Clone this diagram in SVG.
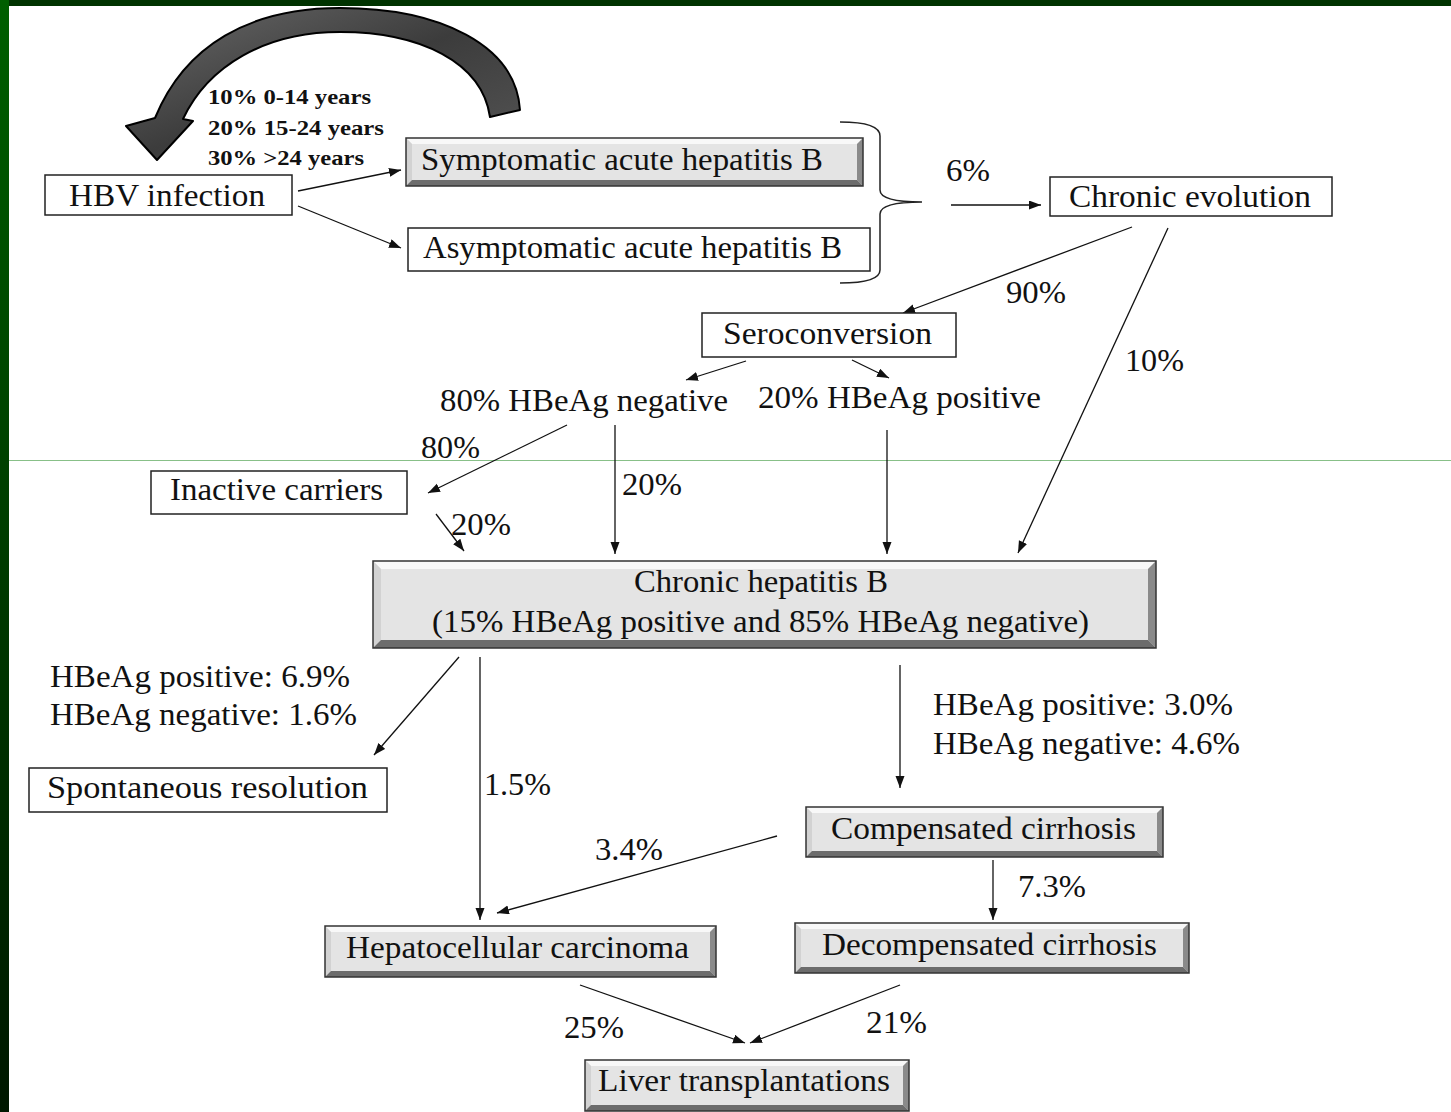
<svg xmlns="http://www.w3.org/2000/svg" width="1451" height="1112" viewBox="0 0 1451 1112" font-family="Liberation Serif, Times New Roman, serif">
<style>
text{font-size:31px;fill:#111}
.sm{font-size:22px;font-weight:bold}
.box{fill:#fff;stroke:#222;stroke-width:1.5}
.face{fill:#e4e4e4}
.bt{fill:#f8f8f8}.bl{fill:#d2d2d2}.br{fill:#8a8a8a}.bb{fill:#6c6c6c}
.edge{fill:none;stroke:#333;stroke-width:1.5}
.c{fill:none;stroke:#111;stroke-width:1.3;marker-end:url(#ah)}
</style>
<defs>
<marker id="ah" markerUnits="userSpaceOnUse" markerWidth="14" markerHeight="10" refX="12" refY="4.5" orient="auto"><path d="M0,0 L12,4.5 L0,9 z" fill="#111"/></marker>
<linearGradient id="lb" x1="0" y1="0" x2="0" y2="1"><stop offset="0" stop-color="#005f00"/><stop offset="1" stop-color="#001800"/></linearGradient>
<linearGradient id="arc" x1="0" y1="0" x2="1" y2="1"><stop offset="0" stop-color="#6a6a6a"/><stop offset="0.5" stop-color="#3c3c3c"/><stop offset="1" stop-color="#555"/></linearGradient>
</defs>
<rect width="1451" height="1112" fill="#fff"/>
<rect x="0" y="0" width="1451" height="6" fill="#003300"/>
<rect x="0" y="0" width="9" height="1112" fill="url(#lb)"/>
<line x1="9" y1="460.5" x2="1451" y2="460.5" stroke="#88c088" stroke-width="1.2"/>

<g id="recurrence-arrow">
<path d="M 520,110 C 516,45 440,8 340,8 C 250,8 185,45 155,118 L 126,126 L 157,160 L 193,121 L 183,119 C 208,66 265,32 340,32 C 420,32 482,62 490,117 Z" fill="url(#arc)" stroke="#000" stroke-width="2" stroke-linejoin="round"/>
<text class="sm" x="208" y="104" textLength="163" lengthAdjust="spacingAndGlyphs">10% 0-14 years</text>
<text class="sm" x="208" y="135" textLength="176" lengthAdjust="spacingAndGlyphs">20% 15-24 years</text>
<text class="sm" x="208" y="165" textLength="156" lengthAdjust="spacingAndGlyphs">30% &gt;24 years</text>
</g>

<g id="connectors">
<line class="c" x1="298" y1="191" x2="401" y2="170"/>
<line class="c" x1="298" y1="206" x2="401" y2="248"/>
<path d="M 840,122 Q 880,122 880,136 L 880,190 Q 880,202 922,202 Q 880,202 880,214 L 880,270 Q 880,283 840,283" fill="none" stroke="#222" stroke-width="1.5"/>
<line class="c" x1="951" y1="205" x2="1041" y2="205"/>
<line class="c" x1="1132" y1="227" x2="903" y2="313"/>
<line class="c" x1="1168" y1="228" x2="1018" y2="553"/>
<line class="c" x1="746" y1="361" x2="686" y2="380"/>
<line class="c" x1="852" y1="360" x2="889" y2="378"/>
<line class="c" x1="567" y1="425" x2="428" y2="493"/>
<line class="c" x1="436" y1="514" x2="464" y2="551"/>
<line class="c" x1="615" y1="425" x2="615" y2="554"/>
<line class="c" x1="887" y1="430" x2="887" y2="554"/>
<line class="c" x1="459" y1="657" x2="374" y2="755"/>
<line class="c" x1="480" y1="657" x2="480" y2="920"/>
<line class="c" x1="900" y1="665" x2="900" y2="788"/>
<line class="c" x1="777" y1="836" x2="497" y2="913"/>
<line class="c" x1="993" y1="860" x2="993" y2="920"/>
<line class="c" x1="580" y1="985" x2="745" y2="1043"/>
<line class="c" x1="900" y1="985" x2="750" y2="1043"/>
<text x="946" y="181" textLength="44" lengthAdjust="spacingAndGlyphs">6%</text>
<text x="1006" y="303" textLength="60" lengthAdjust="spacingAndGlyphs">90%</text>
<text x="1125" y="371" textLength="59" lengthAdjust="spacingAndGlyphs">10%</text>
<text x="440" y="411" textLength="288" lengthAdjust="spacingAndGlyphs">80% HBeAg  negative</text>
<text x="758" y="408" textLength="283" lengthAdjust="spacingAndGlyphs">20% HBeAg  positive</text>
<text x="421" y="458" textLength="59" lengthAdjust="spacingAndGlyphs">80%</text>
<text x="451" y="535" textLength="60" lengthAdjust="spacingAndGlyphs">20%</text>
<text x="622" y="495" textLength="60" lengthAdjust="spacingAndGlyphs">20%</text>
<text x="50" y="687" textLength="300" lengthAdjust="spacingAndGlyphs">HBeAg  positive: 6.9%</text>
<text x="50" y="725" textLength="307" lengthAdjust="spacingAndGlyphs">HBeAg  negative: 1.6%</text>
<text x="484" y="795" textLength="67" lengthAdjust="spacingAndGlyphs">1.5%</text>
<text x="933" y="715" textLength="300" lengthAdjust="spacingAndGlyphs">HBeAg  positive: 3.0%</text>
<text x="933" y="754" textLength="307" lengthAdjust="spacingAndGlyphs">HBeAg  negative: 4.6%</text>
<text x="595" y="860" textLength="68" lengthAdjust="spacingAndGlyphs">3.4%</text>
<text x="1018" y="897" textLength="68" lengthAdjust="spacingAndGlyphs">7.3%</text>
<text x="564" y="1038" textLength="60" lengthAdjust="spacingAndGlyphs">25%</text>
<text x="866" y="1033" textLength="61" lengthAdjust="spacingAndGlyphs">21%</text>
</g>

<g id="hbv-infection">
<rect class="box" x="45" y="175" width="247" height="40"/>
<text x="69" y="206" textLength="196" lengthAdjust="spacingAndGlyphs">HBV  infection</text>
</g>

<g id="symptomatic">
<rect class="face" x="406" y="138" width="457" height="48"/>
<polygon class="bt" points="406,138 863,138 857,144 412,144"/>
<polygon class="bl" points="406,138 412,144 412,180 406,186"/>
<polygon class="br" points="863,138 863,186 857,180 857,144"/>
<polygon class="bb" points="406,186 412,180 857,180 863,186"/>
<rect class="edge" x="406" y="138" width="457" height="48"/>
<text x="421" y="170" textLength="402" lengthAdjust="spacingAndGlyphs">Symptomatic acute hepatitis B</text>
</g>

<g id="asymptomatic">
<rect class="box" x="408" y="228" width="462" height="43"/>
<text x="423" y="258" textLength="419" lengthAdjust="spacingAndGlyphs">Asymptomatic acute hepatitis B</text>
</g>

<g id="chronic-evolution">
<rect class="box" x="1050" y="177" width="282" height="39"/>
<text x="1069" y="207" textLength="242" lengthAdjust="spacingAndGlyphs">Chronic evolution</text>
</g>

<g id="seroconversion">
<rect class="box" x="702" y="313" width="254" height="44"/>
<text x="723" y="344" textLength="209" lengthAdjust="spacingAndGlyphs">Seroconversion</text>
</g>

<g id="inactive-carriers">
<rect class="box" x="151" y="471" width="256" height="43"/>
<text x="170" y="500" textLength="213" lengthAdjust="spacingAndGlyphs">Inactive carriers</text>
</g>

<g id="chronic-hepatitis">
<rect class="face" x="373" y="561" width="783" height="87"/>
<polygon class="bt" points="373,561 1156,561 1148,569 381,569"/>
<polygon class="bl" points="373,561 381,569 381,640 373,648"/>
<polygon class="br" points="1156,561 1156,648 1148,640 1148,569"/>
<polygon class="bb" points="373,648 381,640 1148,640 1156,648"/>
<rect class="edge" x="373" y="561" width="783" height="87"/>
<text x="634" y="592" textLength="254" lengthAdjust="spacingAndGlyphs">Chronic hepatitis B</text>
<text x="432" y="632" textLength="657" lengthAdjust="spacingAndGlyphs">(15% HBeAg  positive and 85% HBeAg  negative)</text>
</g>

<g id="spontaneous-resolution">
<rect class="box" x="29" y="768" width="358" height="44"/>
<text x="47" y="798" textLength="321" lengthAdjust="spacingAndGlyphs">Spontaneous  resolution</text>
</g>

<g id="compensated">
<rect class="face" x="806" y="807" width="357" height="50"/>
<polygon class="bt" points="806,807 1163,807 1157,813 812,813"/>
<polygon class="bl" points="806,807 812,813 812,851 806,857"/>
<polygon class="br" points="1163,807 1163,857 1157,851 1157,813"/>
<polygon class="bb" points="806,857 812,851 1157,851 1163,857"/>
<rect class="edge" x="806" y="807" width="357" height="50"/>
<text x="831" y="839" textLength="305" lengthAdjust="spacingAndGlyphs">Compensated cirrhosis</text>
</g>

<g id="hepatocellular">
<rect class="face" x="325" y="926" width="391" height="51"/>
<polygon class="bt" points="325,926 716,926 710,932 331,932"/>
<polygon class="bl" points="325,926 331,932 331,971 325,977"/>
<polygon class="br" points="716,926 716,977 710,971 710,932"/>
<polygon class="bb" points="325,977 331,971 710,971 716,977"/>
<rect class="edge" x="325" y="926" width="391" height="51"/>
<text x="346" y="958" textLength="343" lengthAdjust="spacingAndGlyphs">Hepatocellular  carcinoma</text>
</g>

<g id="decompensated">
<rect class="face" x="795" y="923" width="394" height="50"/>
<polygon class="bt" points="795,923 1189,923 1183,929 801,929"/>
<polygon class="bl" points="795,923 801,929 801,967 795,973"/>
<polygon class="br" points="1189,923 1189,973 1183,967 1183,929"/>
<polygon class="bb" points="795,973 801,967 1183,967 1189,973"/>
<rect class="edge" x="795" y="923" width="394" height="50"/>
<text x="822" y="955" textLength="335" lengthAdjust="spacingAndGlyphs">Decompensated cirrhosis</text>
</g>

<g id="liver-transplantations">
<rect class="face" x="585" y="1060" width="324" height="51"/>
<polygon class="bt" points="585,1060 909,1060 903,1066 591,1066"/>
<polygon class="bl" points="585,1060 591,1066 591,1105 585,1111"/>
<polygon class="br" points="909,1060 909,1111 903,1105 903,1066"/>
<polygon class="bb" points="585,1111 591,1105 903,1105 909,1111"/>
<rect class="edge" x="585" y="1060" width="324" height="51"/>
<text x="598" y="1091" textLength="292" lengthAdjust="spacingAndGlyphs">Liver transplantations</text>
</g>
</svg>
